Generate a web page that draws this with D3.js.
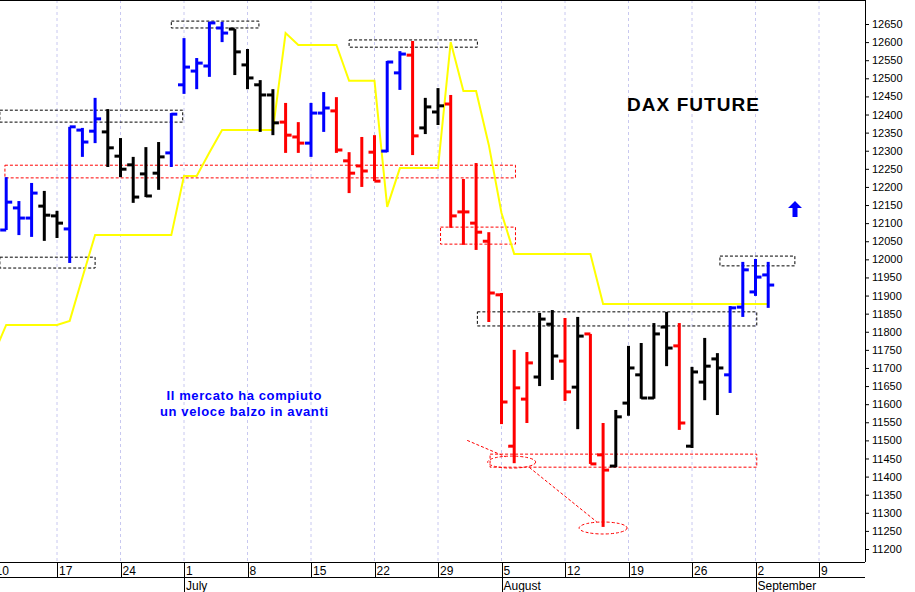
<!DOCTYPE html>
<html><head><meta charset="utf-8">
<script src="https://cdn.jsdelivr.net/npm/d3@7"></script>
<style>body{margin:0;background:#fff}svg{display:block}text{font-family:Arial,"Liberation Sans",sans-serif}</style>
</head><body>
<svg id="c" width="915" height="592"></svg>
<script>
// trading days from Tue 11 Jun 2019 (index 1) to Tue 3 Sep 2019 (index 61)
var highs  = [12227,12161,12211,12189,12134,12366,12363,12446,12415,12335,12283,12310,12324,12404,12611,12556,12656,12656,12636,12581,12495,12470,12432,12379,12432,12462,12448,12296,12338,12343,12548,12575,12603,12446,12473,12454,12222,12266,12075,11907,11750,11744,11852,11860,11838,11841,11794,11548,11584,11761,11769,11824,11855,11824,11703,11783,11741,11871,11993,12001,11993];
var lows   = [12081,12067,12062,12051,12059,11990,12283,12321,12255,12227,12156,12172,12192,12255,12457,12470,12504,12600,12509,12470,12352,12343,12294,12294,12283,12352,12294,12183,12200,12216,12296,12468,12288,12346,12371,12087,12040,12026,11827,11545,11437,11548,11650,11667,11609,11531,11435,11261,11426,11568,11615,11615,11705,11529,11479,11611,11570,11631,11841,11899,11866];
var opens  = [12081,12142,12114,12147,12120,12084,12357,12354,12352,12285,12261,12236,12238,12294,12482,12520,12534,12639,12636,12537,12482,12454,12379,12338,12321,12404,12410,12272,12258,12296,12299,12515,12564,12363,12407,12429,12131,12100,12050,11902,11484,11614,11675,11821,11719,11647,11794,11460,11429,11603,11681,11617,11813,11761,11484,11661,11725,11681,11868,11910,11957];
var closes = [12158,12114,12183,12122,12100,12366,12324,12388,12308,12249,12172,12175,12283,12401,12531,12542,12653,12625,12573,12501,12454,12377,12343,12321,12404,12418,12302,12238,12244,12216,12545,12567,12341,12421,12424,12120,12131,12075,11907,11606,11645,11714,11835,11733,11634,11788,11435,11418,11565,11700,11617,11794,11755,11548,11689,11705,11700,11866,11971,11951,11929];
var colors = "bbbkkbbbkkkkkbbbbbkkkkrrbbrrrrbbrkkrrrrrrrkkrkrrkkkkkrkkkbbbb".split("");
// yellow line, index 0..61
var yellow = [11736,11819,11819,11819,11819,11819,11830,11950,12067,12067,12067,12067,12067,12067,12067,12230,12230,12295,12357,12357,12357,12357,12357,12625,12592,12592,12592,12592,12493,12493,12493,12145,12252,12252,12252,12252,12600,12465,12465,12316,12128,12015,12015,12015,12015,12015,12015,12015,11877,11877,11877,11877,11877,11877,11877,11877,11877,11877,11877,11877,11877,11877];
var weekLabels = ["10","17","24","1","8","15","22","29","5","12","19","26","2","9"];
var monthLabels = [["July",15],["August",40],["September",60]];
var yTicks = d3.range(11200, 12651, 50);
// annotation boxes: [i0, i1, vTop, vBottom, colour]
var boxes = [[0.5,14.9,12412,12379,"#000"],[0.5,8,12006,11976,"#000"],[0.9,41.1,12260,12225,"red"],
  [14,20.9,12658,12639,"#000"],[28,38.1,12606,12586,"#000"],[35.2,41.1,12089,12042,"red"],
  [38.1,60.1,11855,11816,"#000"],[39.1,60.1,11462,11426,"red"],[57.2,63.1,12009,11982,"#000"]];
var ellipses = [[40.8,11440],[48,11258]];

var svg = d3.select("#c");
var W = 865, H = 562;
var x = d3.scaleLinear().domain([0, 61]).range([-6.5, 768.2]);
var y = d3.scaleLinear().domain([11200, 12650]).range([549, 24]);
var col = {b:"#0000ff", k:"#000000", r:"#ff0000"};
var plot = svg.append("g");
plot.append("clipPath").attr("id","cp").append("rect").attr("width",W).attr("height",H);
var g = plot.append("g").attr("clip-path","url(#cp)");

// weekly grid
g.selectAll("line.grid").data(weekLabels).enter().append("line")
  .attr("x1",function(d,i){return x(i*5)}).attr("x2",function(d,i){return x(i*5)})
  .attr("y1",0).attr("y2",H).attr("stroke","#c8c8f0").attr("stroke-dasharray","3,3");

// boxes
g.selectAll("rect.box").data(boxes).enter().append("rect")
  .attr("x",function(d){return x(d[0])}).attr("width",function(d){return x(d[1])-x(d[0])})
  .attr("y",function(d){return y(d[2])}).attr("height",function(d){return y(d[3])-y(d[2])})
  .attr("fill","none").attr("stroke",function(d){return d[4]}).attr("stroke-dasharray","3,2");
g.selectAll("ellipse").data(ellipses).enter().append("ellipse")
  .attr("cx",function(d){return x(d[0])}).attr("cy",function(d){return y(d[1])})
  .attr("rx",24).attr("ry",6).attr("fill","none").attr("stroke","red").attr("stroke-dasharray","3,2");
g.append("line").attr("x1",x(37.3)).attr("y1",y(11500)).attr("x2",x(40.3)).attr("y2",y(11455))
  .attr("stroke","red").attr("stroke-dasharray","3,2");
g.append("line").attr("x1",x(42.2)).attr("y1",y(11425)).attr("x2",x(47.5)).attr("y2",y(11275))
  .attr("stroke","red").attr("stroke-dasharray","3,2");

// yellow line
g.append("path").datum(yellow).attr("fill","none").attr("stroke","#ffff00").attr("stroke-width",2)
  .attr("d", d3.line().x(function(d,i){return x(i)}).y(function(d){return y(d)}));

// bars
var bars = g.selectAll("g.bar").data(highs).enter().append("g")
  .attr("stroke",function(d,i){return col[colors[i]]}).attr("stroke-width",3);
bars.append("line").attr("x1",function(d,i){return x(i+1)}).attr("x2",function(d,i){return x(i+1)})
  .attr("y1",function(d){return y(d)}).attr("y2",function(d,i){return y(lows[i])});
bars.append("line").attr("x1",function(d,i){return x(i+1)-6}).attr("x2",function(d,i){return x(i+1)})
  .attr("y1",function(d,i){return y(opens[i])}).attr("y2",function(d,i){return y(opens[i])});
bars.append("line").attr("x1",function(d,i){return x(i+1)}).attr("x2",function(d,i){return x(i+1)+6})
  .attr("y1",function(d,i){return y(closes[i])}).attr("y2",function(d,i){return y(closes[i])});

// texts
svg.append("text").attr("x",693).attr("y",111).attr("text-anchor","middle")
  .attr("font-size",19).attr("font-weight","bold").attr("font-family","DejaVu Sans")
  .attr("textLength",132).text("DAX FUTURE");
var note = svg.append("text").attr("fill","#0000ff").attr("font-size",13).attr("font-weight","bold")
  .attr("font-family","DejaVu Sans").attr("text-anchor","middle");
note.append("tspan").attr("x",244).attr("y",400).attr("textLength",155).text("Il mercato ha compiuto");
note.append("tspan").attr("x",244).attr("y",416).attr("textLength",168).text("un veloce balzo in avanti");
svg.append("path").attr("d","M795,201 l-7,7 h4.5 v9 h5 v-9 h4.5 z").attr("fill","#0000ff");

// axes frame
svg.append("line").attr("x1",0).attr("x2",W).attr("y1",0.5).attr("y2",0.5).attr("stroke","#000");
var ya = svg.append("g").attr("transform","translate("+W+",0)")
  .call(d3.axisRight(y).tickValues(yTicks).tickSize(4).tickFormat(d3.format("d")));
ya.select(".domain").attr("d","M0.5,0V"+H);
ya.selectAll("text").attr("font-size",11).attr("x",7);
svg.append("line").attr("x1",0).attr("x2",W).attr("y1",H+0.5).attr("y2",H+0.5).attr("stroke","#000");
svg.append("line").attr("x1",0).attr("x2",W).attr("y1",577.5).attr("y2",577.5).attr("stroke","#000");
svg.selectAll("line.wk").data(weekLabels).enter().append("line")
  .attr("x1",function(d,i){return Math.round(x(i*5))+0.5}).attr("x2",function(d,i){return Math.round(x(i*5))+0.5})
  .attr("y1",H).attr("y2",577).attr("stroke","#000");
svg.selectAll("text.wk").data(weekLabels).enter().append("text")
  .attr("x",function(d,i){return x(i*5)+2}).attr("y",575)
  .attr("text-anchor","start").attr("font-size",12).text(function(d){return d});
svg.selectAll("line.mt").data(monthLabels).enter().append("line")
  .attr("x1",function(d){return Math.round(x(d[1]))+0.5}).attr("x2",function(d){return Math.round(x(d[1]))+0.5})
  .attr("y1",577).attr("y2",592).attr("stroke","#000");
svg.selectAll("text.mt").data(monthLabels).enter().append("text")
  .attr("x",function(d){return x(d[1])+2}).attr("y",590).attr("font-size",12).text(function(d){return d[0]});
</script>
</body></html>
